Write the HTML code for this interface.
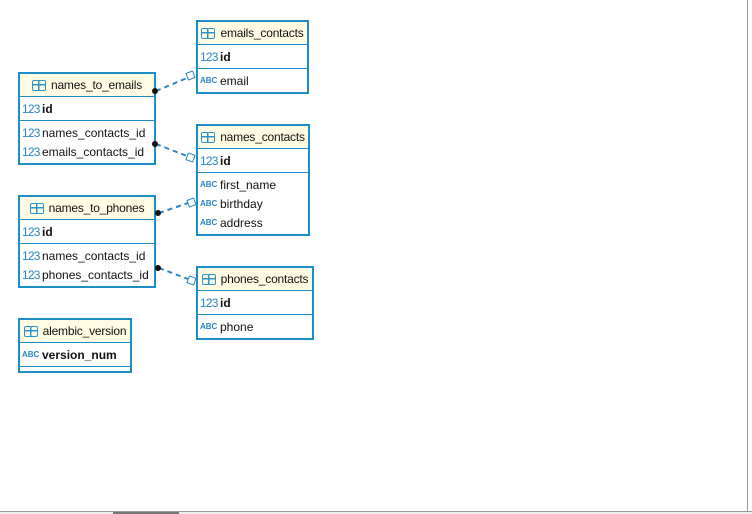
<!DOCTYPE html>
<html><head><meta charset="utf-8"><style>
*{margin:0;padding:0;box-sizing:border-box}
body{width:752px;height:514px;background:#fff;position:relative;overflow:hidden;font-family:"Liberation Sans",sans-serif;font-size:12px;color:#111}
.t{position:absolute;border:2px solid #1d8dc8;background:#fff}
.h{height:23px;background:#fffce3;border-bottom:1px solid #1d8dc8;display:flex;align-items:center;justify-content:center;white-space:nowrap;letter-spacing:-0.2px}
.ti{flex-shrink:0;width:14px;height:11px;border:1.5px solid #2a96d0;border-radius:2px;margin-right:5px;position:relative;background:linear-gradient(#2a96d0,#2a96d0) 0 3px/100% 1.5px no-repeat,linear-gradient(#2a96d0,#2a96d0) 5px 0/1.5px 100% no-repeat}
.r{height:19px;display:flex;align-items:center;padding-left:2px;white-space:nowrap}
.sec{border-bottom:1px solid #1d8dc8;padding:2px 0}
.n{color:#2a87c0;font-size:12px;width:20px;display:inline-block;letter-spacing:-0.8px;flex-shrink:0}
.a{color:#2a87c0;font-size:8px;font-weight:bold;width:20px;display:inline-block;flex-shrink:0}
.b{font-weight:bold}
</style></head><body>

<div class="t" style="left:196px;top:20px;width:113px;height:74px">
<div class="h"><span class="ti"></span>emails_contacts</div>
<div class="sec"><div class="r"><span class="n">123</span><span class="b">id</span></div></div>
<div style="padding:2px 0"><div class="r"><span class="a">ABC</span>email</div></div>
</div>

<div class="t" style="left:18px;top:72px;width:138px;height:93px">
<div class="h"><span class="ti"></span>names_to_emails</div>
<div class="sec"><div class="r"><span class="n">123</span><span class="b">id</span></div></div>
<div style="padding:2px 0"><div class="r"><span class="n">123</span>names_contacts_id</div><div class="r"><span class="n">123</span>emails_contacts_id</div></div>
</div>

<div class="t" style="left:196px;top:124px;width:114px;height:112px">
<div class="h"><span class="ti"></span>names_contacts</div>
<div class="sec"><div class="r"><span class="n">123</span><span class="b">id</span></div></div>
<div style="padding:2px 0"><div class="r"><span class="a">ABC</span>first_name</div><div class="r"><span class="a">ABC</span>birthday</div><div class="r"><span class="a">ABC</span>address</div></div>
</div>

<div class="t" style="left:18px;top:195px;width:138px;height:93px">
<div class="h"><span class="ti"></span>names_to_phones</div>
<div class="sec"><div class="r"><span class="n">123</span><span class="b">id</span></div></div>
<div style="padding:2px 0"><div class="r"><span class="n">123</span>names_contacts_id</div><div class="r"><span class="n">123</span>phones_contacts_id</div></div>
</div>

<div class="t" style="left:196px;top:266px;width:118px;height:74px">
<div class="h"><span class="ti"></span>phones_contacts</div>
<div class="sec"><div class="r"><span class="n">123</span><span class="b">id</span></div></div>
<div style="padding:2px 0"><div class="r"><span class="a">ABC</span>phone</div></div>
</div>

<div class="t" style="left:18px;top:318px;width:114px;height:55px">
<div class="h"><span class="ti"></span>alembic_version</div>
<div class="sec"><div class="r"><span class="a">ABC</span><span class="b">version_num</span></div></div>
</div>

<svg width="752" height="514" style="position:absolute;left:0;top:0">
<g stroke="#2a87c0" stroke-width="2" stroke-dasharray="5,4" fill="none">
<line x1="156" y1="91" x2="187" y2="78"/>
<line x1="156" y1="144" x2="187" y2="156"/>
<line x1="159" y1="213" x2="188" y2="203"/>
<line x1="159" y1="268" x2="188" y2="279"/>
</g>
<g fill="#111"><circle cx="155" cy="91" r="3"/><circle cx="155" cy="144" r="3"/><circle cx="158" cy="213" r="3"/><circle cx="158" cy="268" r="3"/></g>
<g fill="#fff" stroke="#2a87c0" stroke-width="1">
<rect x="187" y="72" width="7" height="7" transform="rotate(-20 190.5 75.5)"/>
<rect x="187" y="154" width="7" height="7" transform="rotate(20 190.5 157.5)"/>
<rect x="188" y="199" width="7" height="7" transform="rotate(-20 191.5 202.5)"/>
<rect x="188" y="277" width="7" height="7" transform="rotate(20 191.5 280.5)"/>
</g>
<line x1="747.5" y1="0" x2="747.5" y2="511" stroke="#999" stroke-width="1"/>
<rect x="0" y="511" width="752" height="3" fill="#eee"/>
<line x1="0" y1="511.5" x2="752" y2="511.5" stroke="#999"/>
<rect x="113" y="512" width="66" height="2" fill="#777"/>
</svg>
</body></html>
